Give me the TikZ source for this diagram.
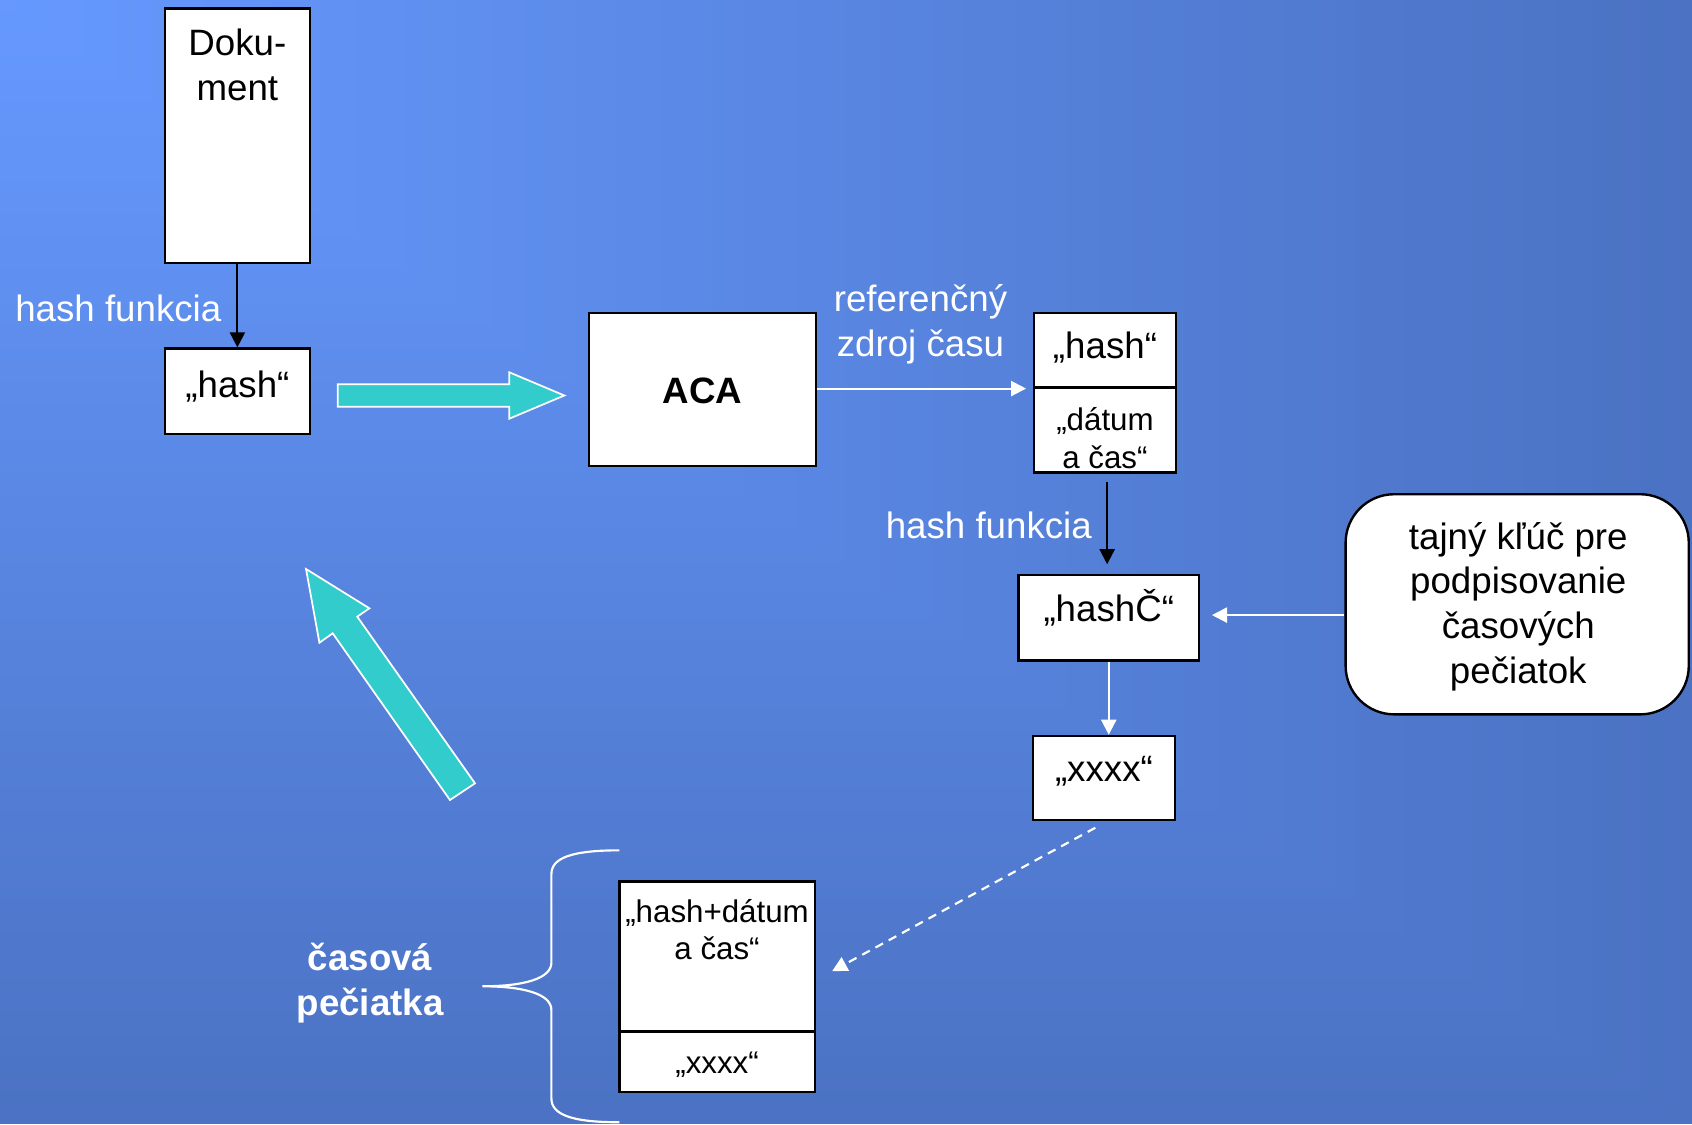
\documentclass[tikz,border=0pt]{standalone}
\usepackage{fontspec}
\setmainfont{Liberation Sans}
\usetikzlibrary{arrows.meta,calc}
\definecolor{bgLight}{RGB}{102,153,255}
\definecolor{bgDark}{RGB}{75,114,195}
\definecolor{blockTeal}{RGB}{51,204,204}
\begin{document}
\begin{tikzpicture}[x=1pt,y=-1pt,
  box/.style={draw=black, fill=white, line width=2.2pt, inner sep=0pt},
  intxt/.style={text=black, inner sep=0pt, align=center, font=\fontsize{34}{41.5}\selectfont},
  smalltxt/.style={text=black, inner sep=0pt, align=center, font=\fontsize{29}{35}\selectfont},
  lbl/.style={text=white, inner sep=0pt, align=center, font=\fontsize{34}{41.5}\selectfont},
  blkarrow/.style={draw=black, line width=2pt, -{Triangle[length=14pt,width=14pt]}},
  wharrow/.style={draw=white, line width=2pt, -{Triangle[length=14pt,width=14pt]}},
  blockarrow/.style={fill=blockTeal, draw=white, line width=1.6pt, line join=miter}]

% background: corner gradient, lighter at the top left
\useasboundingbox (0,0) rectangle (1568,1042);
\foreach \i in {100,99,...,1}
  \fill[bgDark!\i!bgLight] (0,0) rectangle ({15.68*\i},{10.42*\i});

% multi-line texts are placed by the baseline of their last line

% document and its hash
\node[box, minimum width=134pt, minimum height=236pt] (doc) at (220,126) {};
\node[intxt, anchor=base] (docT) at (220,93) {Doku-\\ment};
\node[box, minimum width=134pt, minimum height=79pt] (hashA) at (220,362.5) {};
\node[intxt, anchor=base] (hashAT) at (220,368) {„hash“};
\draw[blkarrow] (doc.south) -- (hashA.north);
\node[lbl, anchor=base west] (hf1) at (14,298) {hash funkcia};

% authority
\node[box, minimum width=210pt, minimum height=142pt] (aca) at (651,361) {};
\node[intxt, anchor=base] (acaT) at (651,374) {\bfseries ACA};
\filldraw[blockarrow] (313,356) -- (472,356) -- (472,345) -- (523,366.5)
  -- (472,388) -- (472,377) -- (313,377) -- cycle;

% hash with date and time
\node[box, minimum width=132pt, minimum height=69pt] (hdTop) at (1024,324.5) {};
\node[box, minimum width=132pt, minimum height=79pt] (hdBot) at (1024,398.5) {};
\node[intxt, anchor=base] (hdTopT) at (1024,332) {„hash“};
\node[smalltxt, anchor=base] (hdBotT) at (1024,434) {„dátum\\a čas“};
\coordinate (hdIn) at ($(hdTop.south west)+(-6,0)$);
\draw[wharrow] (aca.east |- hdIn) -- (hdIn);
\node[lbl, anchor=base] (refT) at (853,330) {referenčný\\zdroj času};

% second hash
\node[box, minimum width=167pt, minimum height=79pt] (hashC) at (1027.5,572.5) {};
\node[intxt, anchor=base] (hashCT) at (1027.5,576) {„hashČ“};
\draw[blkarrow] ($(hdBot.south)+(2,8)$) -- ($(hashC.north)+(-1.5,-9)$);
\node[lbl, anchor=base east] (hf2) at (1012,499) {hash funkcia};

% signing key
\node[box, rounded corners=45pt, minimum width=318pt, minimum height=204pt] (key) at (1406,560) {};
\node[intxt, anchor=base] (keyT) at (1407,633.3) {tajný kľúč pre\\podpisovanie\\časových\\pečiatok};
\draw[wharrow] (key.west |- 0,570) -- ($(hashC.east)+(11,-2.5)$);

% signature
\node[box, minimum width=132pt, minimum height=78pt] (xxxx) at (1023,721) {};
\node[intxt, anchor=base] (xxxxT) at (1023,724.4) {„xxxx“};
\draw[wharrow] (hashC.south) -- (hashC.south |- xxxx.north);

% resulting time stamp
\node[box, minimum width=181pt, minimum height=139pt] (stTop) at (664.5,886.5) {};
\node[box, minimum width=181pt, minimum height=56pt] (stBot) at (664.5,984) {};
\node[smalltxt, anchor=base] (stTopT) at (664.5,889.6) {„hash+dátum\\a čas“};
\node[smalltxt, anchor=base] (stBotT) at (664.5,994.7) {„xxxx“};
\draw[wharrow, dash pattern=on 8pt off 6pt] ($(xxxx.south)+(-8,6)$) -- ($(stTop.east)+(15,13.5)$);

% brace and its label
\draw[white, line width=2pt] (574,788) .. controls (530,788) and (511,795) .. (511,810)
  -- (511,892) .. controls (511,907) and (485,914) .. (447,914)
  .. controls (485,914) and (511,921) .. (511,936)
  -- (511,1018) .. controls (511,1033) and (530,1040) .. (574,1040);
\node[lbl, anchor=base] (stampT) at (343,940.6) {\bfseries časová\\\bfseries pečiatka};

% return arrow
\filldraw[blockarrow] (417,741.4) -- (308.3,586.9) -- (296,595.6) -- (283.6,527.3)
  -- (342.3,563.7) -- (331.1,571.5) -- (440.2,725.9) -- cycle;
\end{tikzpicture}
\end{document}
